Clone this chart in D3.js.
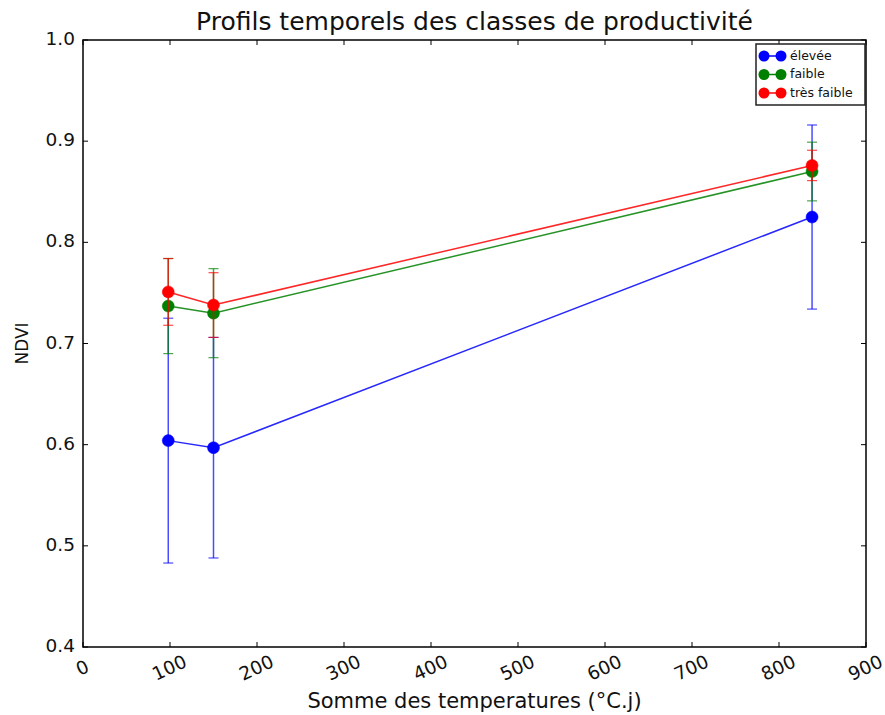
<!DOCTYPE html>
<html>
<head>
<meta charset="utf-8">
<script src="https://cdn.jsdelivr.net/npm/d3@7"></script>
<style>
body{margin:0;background:#fff;}
svg{display:block;font-family:"DejaVu Sans",sans-serif;}
</style>
</head>
<body>
<svg id="chart" width="885" height="715"></svg>
<script>
const xValues = [98, 150, 838];
const seriesNames = ["élevée", "faible", "très faible"];
const seriesColors = ["#0000ff", "#008000", "#ff0000"];
const meanEleve = [0.604, 0.597, 0.825];
const errEleve = [0.121, 0.109, 0.091];
const meanFaible = [0.737, 0.730, 0.870];
const errFaible = [0.047, 0.044, 0.029];
const meanTresFaible = [0.751, 0.738, 0.876];
const errTresFaible = [0.033, 0.032, 0.015];
const xTicks = [0,100,200,300,400,500,600,700,800,900];
const yTicks = [0.4,0.5,0.6,0.7,0.8,0.9,1.0];

const series = [
  {name: seriesNames[0], color: seriesColors[0], mean: meanEleve, err: errEleve},
  {name: seriesNames[1], color: seriesColors[1], mean: meanFaible, err: errFaible},
  {name: seriesNames[2], color: seriesColors[2], mean: meanTresFaible, err: errTresFaible}
];

const svg = d3.select("#chart");
const L = 83, R = 866, T = 40, B = 647;
const x = d3.scaleLinear().domain([0, 900]).range([L, R]);
const y = d3.scaleLinear().domain([0.4, 1.0]).range([B, T]);

// ticks (inward, all four sides)
const tl = 5;
const g = svg.append("g");
xTicks.forEach(t => {
  g.append("line").attr("x1", x(t)).attr("x2", x(t)).attr("y1", B).attr("y2", B - tl).attr("stroke", "#000");
  g.append("line").attr("x1", x(t)).attr("x2", x(t)).attr("y1", T).attr("y2", T + tl).attr("stroke", "#000");
  g.append("text").attr("transform", `translate(${x(t)},${B + 22}) rotate(-25)`)
    .attr("text-anchor", "middle").attr("dominant-baseline", "middle")
    .attr("font-size", 18.5).attr("fill", "#111").text(t);
});
yTicks.forEach(t => {
  g.append("line").attr("x1", L).attr("x2", L + tl).attr("y1", y(t)).attr("y2", y(t)).attr("stroke", "#000");
  g.append("line").attr("x1", R).attr("x2", R - tl).attr("y1", y(t)).attr("y2", y(t)).attr("stroke", "#000");
  g.append("text").attr("x", L - 8).attr("y", y(t)).attr("text-anchor", "end").attr("dominant-baseline", "middle")
    .attr("font-size", 18.5).attr("fill", "#111").text(t.toFixed(1));
});

// data
const capHalf = 5;
series.forEach(s => {
  const pts = xValues.map((xv, i) => ({x: xv, m: s.mean[i], e: s.err[i]}));
  const gs = svg.append("g");
  gs.append("path").datum(pts)
    .attr("d", d3.line().x(d => x(d.x)).y(d => y(d.m)))
    .attr("fill", "none").attr("stroke", s.color).attr("stroke-width", 1.5).attr("opacity", 0.85);
  pts.forEach(d => {
    gs.append("line").attr("x1", x(d.x)).attr("x2", x(d.x)).attr("y1", y(d.m - d.e)).attr("y2", y(d.m + d.e))
      .attr("stroke", s.color).attr("stroke-width", 1.5).attr("opacity", 0.7);
    [d.m - d.e, d.m + d.e].forEach(v => {
      gs.append("line").attr("x1", x(d.x) - capHalf).attr("x2", x(d.x) + capHalf).attr("y1", y(v)).attr("y2", y(v))
        .attr("stroke", s.color).attr("stroke-width", 1.2).attr("opacity", 0.7);
    });
  });
  gs.selectAll("circle").data(pts).enter().append("circle")
    .attr("cx", d => x(d.x)).attr("cy", d => y(d.m)).attr("r", 6)
    .attr("fill", s.color).attr("stroke", s.color).attr("stroke-width", 0.5);
});

// frame
svg.append("rect").attr("x", L).attr("y", T).attr("width", R - L).attr("height", B - T)
  .attr("fill", "none").attr("stroke", "#000").attr("stroke-width", 1.5);

// legend
const lg = svg.append("g");
lg.append("rect").attr("x", 756).attr("y", 44).attr("width", 109).attr("height", 61)
  .attr("fill", "#fff").attr("stroke", "#222").attr("stroke-width", 1.5);
series.forEach((s, i) => {
  const yy = 56 + i * 18.5;
  lg.append("line").attr("x1", 764).attr("x2", 781).attr("y1", yy).attr("y2", yy).attr("stroke", s.color).attr("stroke-width", 1.5);
  [764, 781].forEach(cx => lg.append("circle").attr("cx", cx).attr("cy", yy).attr("r", 5.5).attr("fill", s.color));
  lg.append("text").attr("x", 790).attr("y", yy).attr("dominant-baseline", "middle")
    .attr("font-size", 12.5).attr("fill", "#111").text(s.name);
});

// titles
svg.append("text").attr("x", (L + R) / 2).attr("y", 30).attr("text-anchor", "middle")
  .attr("font-size", 25).attr("fill", "#111").text("Profils temporels des classes de productivité");
svg.append("text").attr("x", (L + R) / 2).attr("y", 708).attr("text-anchor", "middle")
  .attr("font-size", 21).attr("fill", "#111").text("Somme des temperatures (°C.j)");
svg.append("text").attr("transform", `translate(28,${(T + B) / 2}) rotate(-90)`).attr("text-anchor", "middle")
  .attr("font-size", 17).attr("fill", "#111").text("NDVI");
</script>
</body>
</html>
